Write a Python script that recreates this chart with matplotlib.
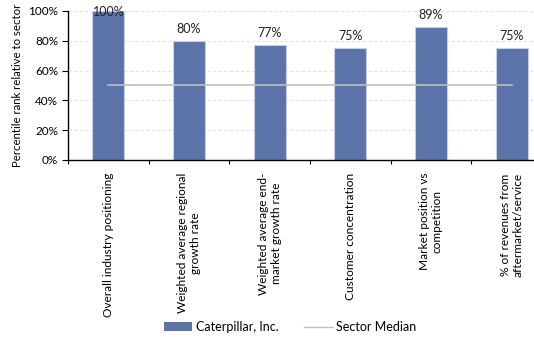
import numpy as np
import matplotlib.pyplot as plt
from matplotlib.lines import Line2D
from matplotlib.patches import Patch

plt.rcParams['font.family'] = ['Lato', 'DejaVu Sans']

categories = ['Overall industry positioning',
              'Weighted average regional\ngrowth rate',
              'Weighted average end-\nmarket growth rate',
              'Customer concentration',
              'Market position vs\ncompetition',
              '% of revenues from\naftermarket/service']
company = [100, 80, 77, 75, 89, 75]
sector_median = [50, 50, 50, 50, 50, 50]

bar_color = '#5b73a8'
median_color = '#bfbfbf'

fig = plt.figure(figsize=(5.34, 3.37), dpi=100)
# plot area runs past the right edge of the figure
ax = fig.add_axes([68 / 534, 1 - 160 / 337, 484 / 534, 149 / 337])

x = np.arange(len(categories))
ax.bar(x, company, width=0.4, color=bar_color, edgecolor='#c5cfe6',
       linewidth=0.8, zorder=2)
ax.plot(x, sector_median, color=median_color, linewidth=1.2, zorder=3)

for xi, v in zip(x, company):
    ax.text(xi, min(v + 8, 99), f'{v}%', ha='center', va='center',
            fontsize=9, color='#222222', zorder=4)

ax.set_xlim(-0.5, len(categories) - 0.5)
ax.set_ylim(0, 100)
ax.set_yticks(np.arange(0, 101, 20))
ax.set_yticklabels([f'{v}%' for v in range(0, 101, 20)], fontsize=8.5)
ax.yaxis.grid(True, linestyle=(0, (3, 2)), color='#dde3ee', linewidth=0.8)
ax.set_axisbelow(True)

ax.set_xticks(np.arange(len(categories) + 1) - 0.5)
ax.set_xticklabels([])
ax.set_xticks(x, minor=True)
ax.set_xticklabels(categories, minor=True, rotation=90, fontsize=8.6,
                   va='top', ha='center', multialignment='center')
ax.tick_params(axis='x', which='minor', length=0, pad=9)
ax.tick_params(axis='x', which='major', direction='out', length=3, width=0.8)
ax.tick_params(axis='y', direction='out', length=4, width=0.8, pad=3)

ax.set_ylabel('Percentile rank relative to sector', fontsize=8.2, labelpad=4)

ax.spines['top'].set_visible(False)
ax.spines['right'].set_visible(False)
ax.spines['left'].set_linewidth(1)
ax.spines['bottom'].set_linewidth(1)

handles = [Patch(facecolor=bar_color, edgecolor='none', label='Caterpillar, Inc.'),
           Line2D([0], [0], color=median_color, linewidth=1, label='Sector Median')]
fig.legend(handles=handles, loc='center', bbox_to_anchor=(290 / 534, 1 - 327 / 337),
           ncol=2, frameon=False, fontsize=9, handlelength=2.3,
           handletextpad=0.3, columnspacing=2.0)

fig.savefig('out.png', dpi=100)
